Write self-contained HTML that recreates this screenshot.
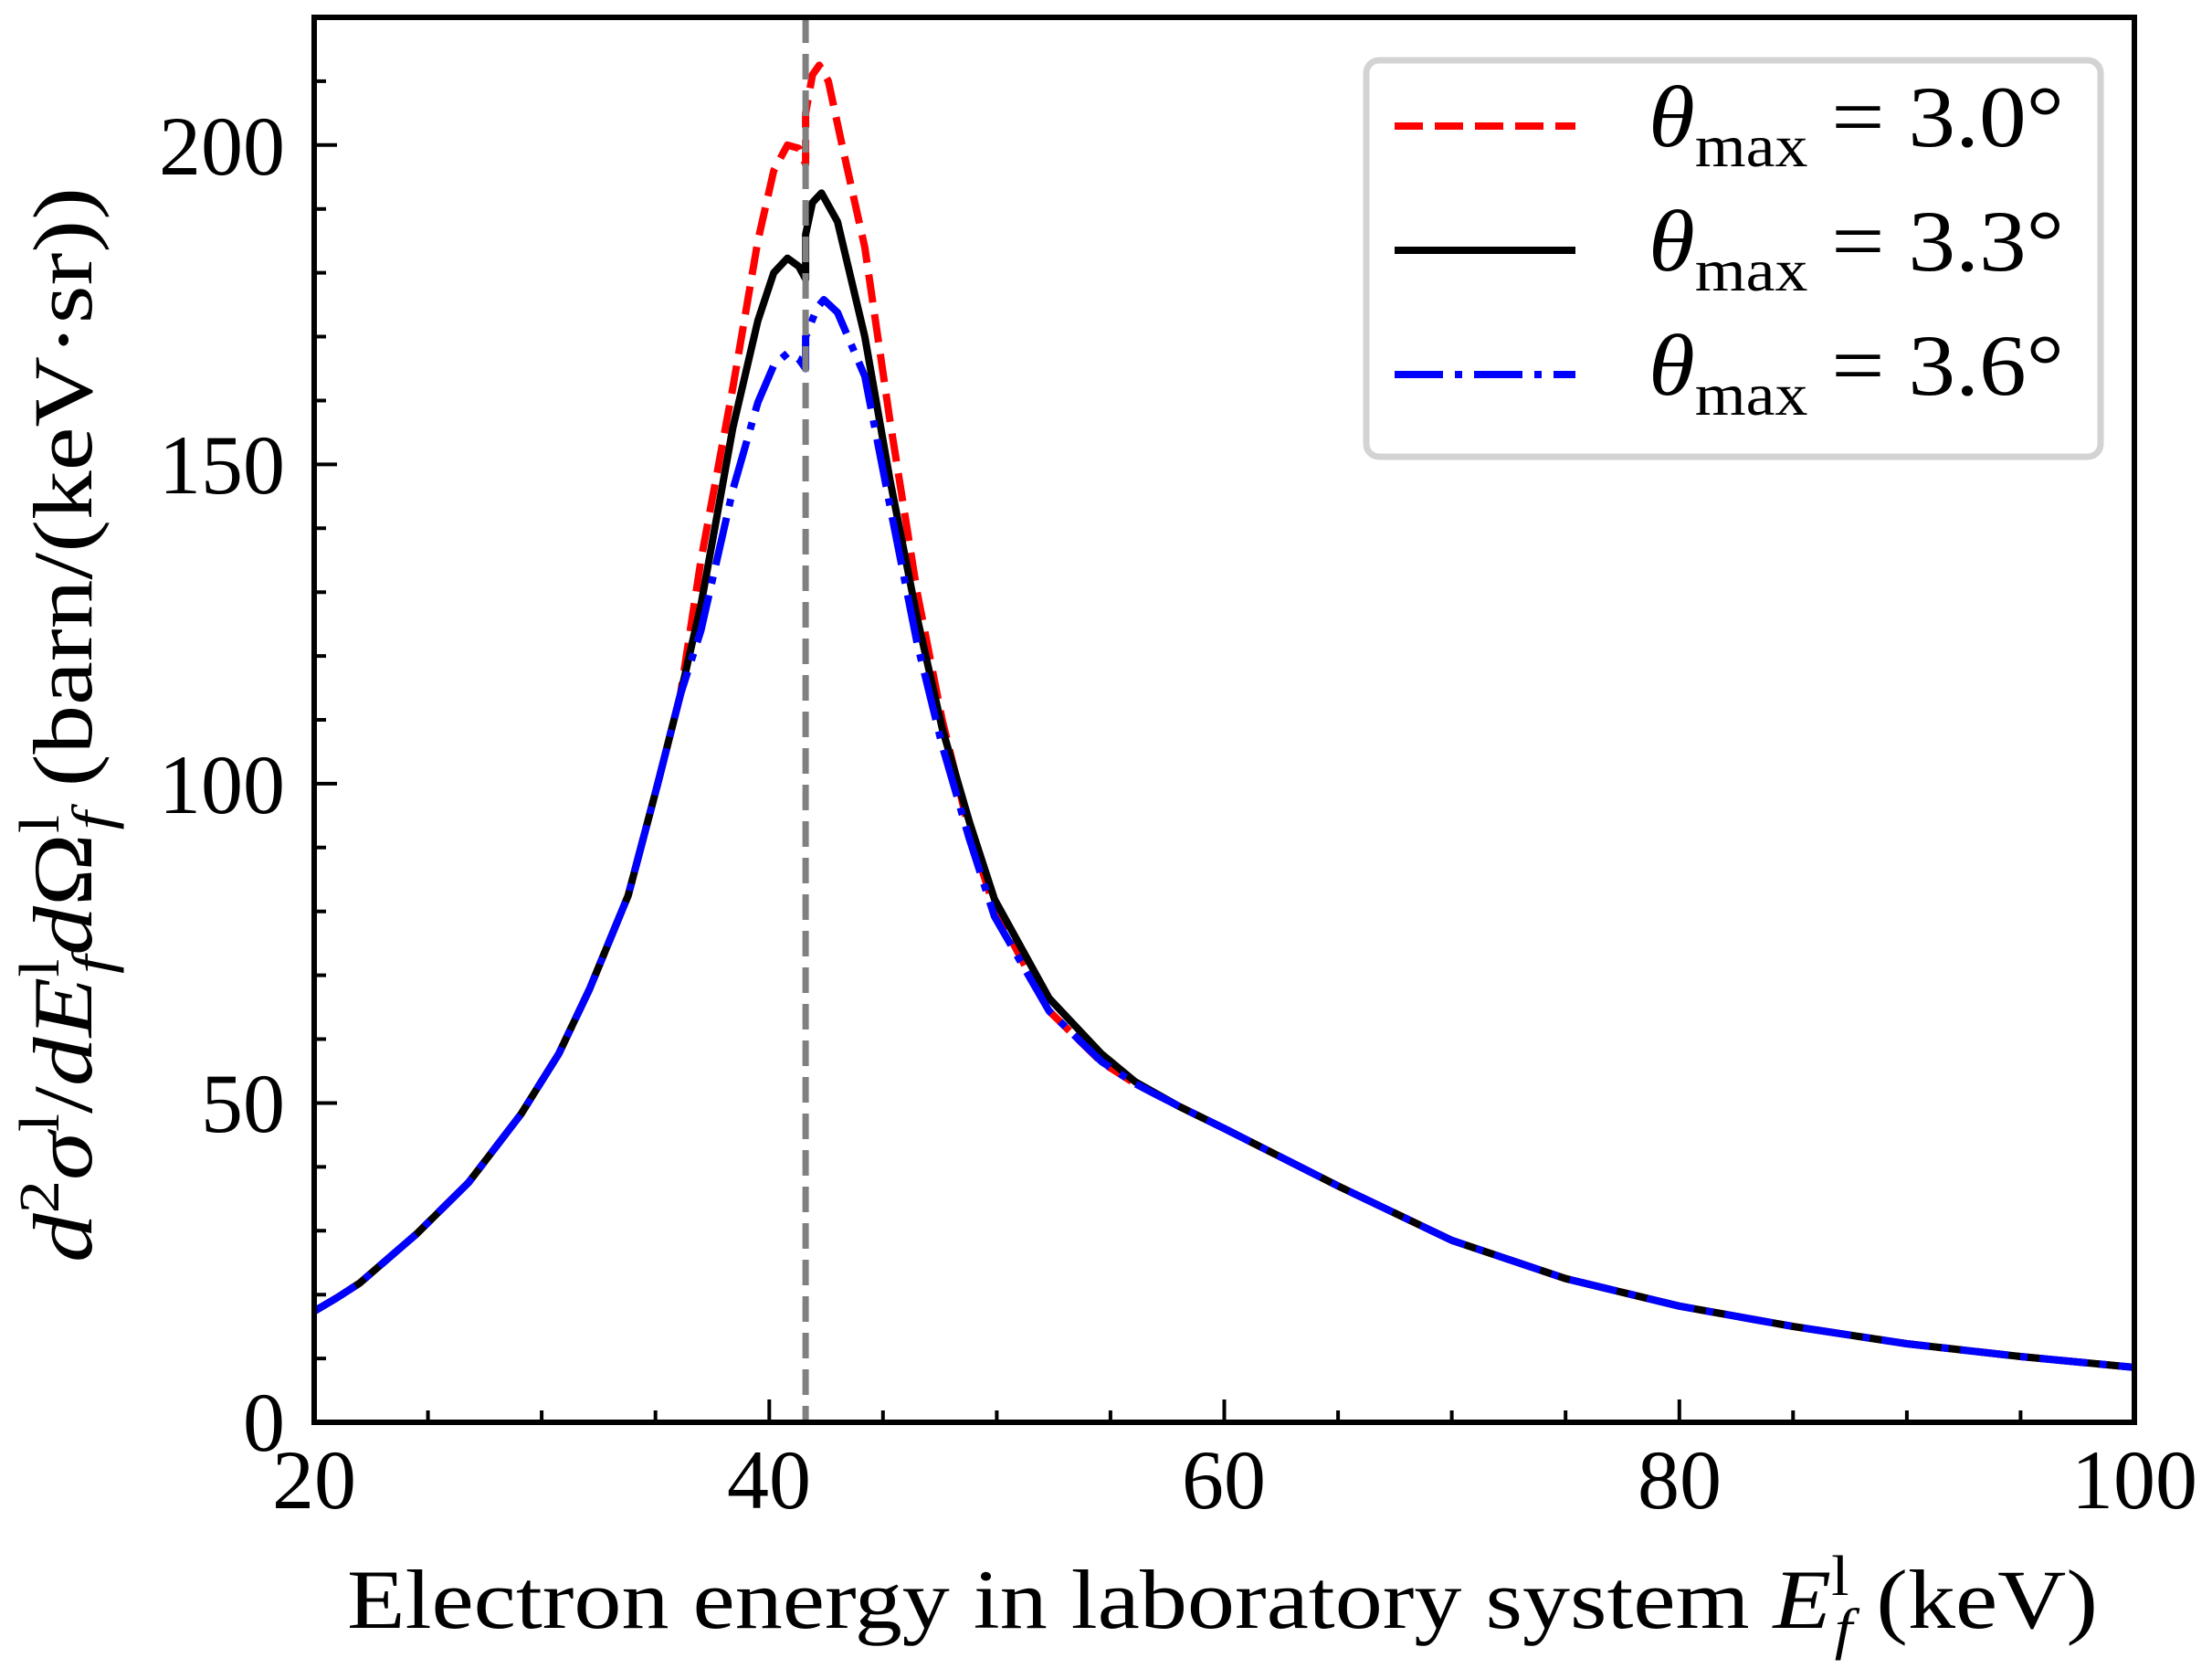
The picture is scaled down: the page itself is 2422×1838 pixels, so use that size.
<!DOCTYPE html>
<html><head><meta charset="utf-8">
<style>html,body{margin:0;padding:0;background:#fff;}svg{display:block;}</style>
</head><body>
<svg xmlns="http://www.w3.org/2000/svg" width="2422" height="1838" viewBox="0 0 2422 1838" font-family="'Liberation Serif', serif">
<defs><clipPath id="cp"><rect x="344" y="19" width="1993" height="1538"/></clipPath></defs>
<rect width="2422" height="1838" fill="#fff"/>
<g clip-path="url(#cp)" fill="none" stroke-width="8" stroke-linejoin="round">
<polyline stroke="#ff0000" stroke-dasharray="31 13" points="344,1435.4 368.9,1420.7 393.8,1404.6 456.1,1350.8 513.4,1294.1 570.7,1219.3 611.8,1153.6 645.4,1083 687.8,980.3 720.2,857.9 745.1,760 767.5,613.2 802.4,424.5 829.8,263.7 847.2,186.8 862.2,158.8 874.6,162.3 882.1,179.8 882.1,123.9 889.6,81.9 897,71.4 907,88.9 922,158.8 946.9,270.7 974.3,459.4 1004.2,648.2 1031.6,788 1061.5,909.6 1088.9,994.2 1148.7,1106.8 1206,1162.7 1243.3,1186.5 1290.7,1211 1340.5,1235.4 1465.1,1298.3 1589.6,1357.8 1714.2,1399.7 1838.8,1429.8 1963.3,1452.1 2087.9,1471 2212.4,1485 2337,1496.9"/>
<polyline stroke="#000000" points="344,1435.4 368.9,1420.7 393.8,1404.6 456.1,1350.8 513.4,1294.1 570.7,1219.3 611.8,1153.6 645.4,1083 687.8,980.3 720.2,857.9 745.1,760 767.5,662.2 802.4,468.5 829.8,351.1 847.2,298.6 862.2,282.6 874.6,291.6 882.1,305.6 882.1,256.7 889.6,221.7 899.5,211.3 917,242.7 946.9,368.5 974.3,524.4 1004.2,676.1 1031.6,797.1 1061.5,899.9 1088.9,984.4 1148.7,1092.8 1206,1153.6 1243.3,1184.4 1290.7,1211 1340.5,1235.4 1465.1,1298.3 1589.6,1357.8 1714.2,1399.7 1838.8,1429.8 1963.3,1452.1 2087.9,1471 2212.4,1485 2337,1496.9"/>
<polyline stroke="#0000ff" stroke-dasharray="53 13 8 13" points="344,1435.4 368.9,1420.7 393.8,1404.6 456.1,1350.8 513.4,1294.1 570.7,1219.3 611.8,1153.6 645.4,1083 687.8,980.3 720.2,857.9 745.1,760 767.5,690.1 802.4,536.3 829.8,440.6 847.2,400 862.2,386.7 874.6,393 882.1,403.5 882.1,368.5 894.6,337.1 902,328 917,342 946.9,411.9 974.3,553.1 1004.2,704.1 1031.6,816 1061.5,918.7 1088.9,1003.3 1148.7,1106.8 1206,1162 1243.3,1186.5 1290.7,1211 1340.5,1235.4 1465.1,1298.3 1589.6,1357.8 1714.2,1399.7 1838.8,1429.8 1963.3,1452.1 2087.9,1471 2212.4,1485 2337,1496.9"/>
<line x1="882.1" y1="19" x2="882.1" y2="1557" stroke="#808080" stroke-width="7" stroke-dasharray="28 12"/>
</g>
<path stroke="#000" stroke-width="4" d="M344 1487.1h13M344 1417.2h13M344 1347.3h13M344 1277.4h13M344 1207.5h25M344 1137.5h13M344 1067.6h13M344 997.7h13M344 927.8h13M344 857.9h25M344 788h13M344 718.1h13M344 648.2h13M344 578.3h13M344 508.4h25M344 438.5h13M344 368.5h13M344 298.6h13M344 228.7h13M344 158.8h25M344 88.9h13
M468.6 1557v-13M593.1 1557v-13M717.7 1557v-13M842.3 1557v-25M966.8 1557v-13M1091.4 1557v-13M1215.9 1557v-13M1340.5 1557v-25M1465.1 1557v-13M1589.6 1557v-13M1714.2 1557v-13M1838.8 1557v-25M1963.3 1557v-13M2087.9 1557v-13M2212.4 1557v-13"/>
<rect x="344" y="19" width="1993" height="1538" fill="none" stroke="#000" stroke-width="6"/>
<g font-size="92" text-anchor="end">
<text x="312" y="1588">0</text>
<text x="312" y="1239">50</text>
<text x="312" y="890">100</text>
<text x="312" y="540">150</text>
<text x="312" y="191">200</text>
</g>
<g font-size="92" text-anchor="middle">
<text x="344" y="1651">20</text>
<text x="842" y="1651">40</text>
<text x="1340" y="1651">60</text>
<text x="1839" y="1651">80</text>
<text x="2337" y="1651">100</text>
</g>
<text x="380" y="1782" font-size="92" textLength="1917" lengthAdjust="spacingAndGlyphs">Electron energy in laboratory system <tspan font-style="italic">E</tspan><tspan font-size="62" dy="-36">l</tspan><tspan font-size="62" font-style="italic" dx="-14" dy="58">f</tspan><tspan dy="-22"> (keV)</tspan></text>
<text transform="translate(100,1382) rotate(-90)" font-size="92" textLength="1177" lengthAdjust="spacingAndGlyphs"><tspan font-style="italic">d</tspan><tspan font-size="62" dy="-36">2</tspan><tspan font-style="italic" dy="36">σ</tspan><tspan font-size="62" dy="-36">l</tspan><tspan dy="36">/</tspan><tspan font-style="italic">dE</tspan><tspan font-size="62" dy="-36">l</tspan><tspan font-size="62" font-style="italic" dx="-14" dy="58">f</tspan><tspan font-style="italic" dy="-22">d</tspan>Ω<tspan font-size="62" dy="-36">l</tspan><tspan font-size="62" font-style="italic" dx="-14" dy="58">f</tspan><tspan dy="-22"> (barn/(keV·sr))</tspan></text>
<rect x="1496" y="66" width="804" height="434" rx="14" fill="#fff" stroke="#d3d3d3" stroke-width="7"/>
<line x1="1527" y1="138" x2="1725" y2="138" stroke="#ff0000" stroke-width="8" stroke-dasharray="31 13"/>
<line x1="1527" y1="274" x2="1725" y2="274" stroke="#000" stroke-width="8"/>
<line x1="1527" y1="410" x2="1725" y2="410" stroke="#0000ff" stroke-width="8" stroke-dasharray="53 13 8 13"/>
<g font-size="95">
<text x="1805" y="160" textLength="455" lengthAdjust="spacingAndGlyphs"><tspan font-style="italic">θ</tspan><tspan font-size="66" dy="22">max</tspan><tspan dy="-22"> = 3.0°</tspan></text>
<text x="1805" y="296" textLength="455" lengthAdjust="spacingAndGlyphs"><tspan font-style="italic">θ</tspan><tspan font-size="66" dy="22">max</tspan><tspan dy="-22"> = 3.3°</tspan></text>
<text x="1805" y="432" textLength="455" lengthAdjust="spacingAndGlyphs"><tspan font-style="italic">θ</tspan><tspan font-size="66" dy="22">max</tspan><tspan dy="-22"> = 3.6°</tspan></text>
</g>
</svg>
</body></html>
